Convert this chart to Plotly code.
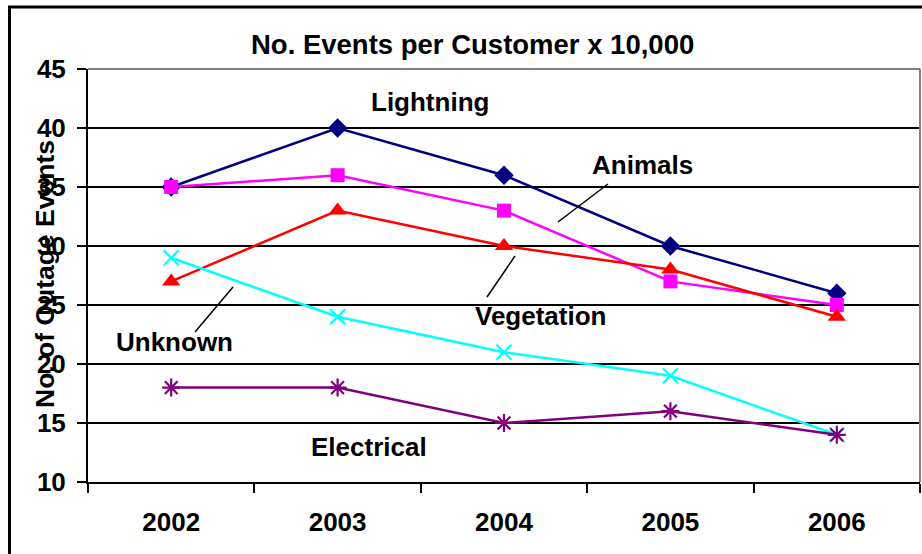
import plotly.graph_objects as go

# Outage events per 10,000 customers, by cause and year
years = ["2002", "2003", "2004", "2005", "2006"]
lightning = [35, 40, 36, 30, 26]
animals = [35, 36, 33, 27, 25]
vegetation = [27, 33, 30, 28, 24]
unknown = [29, 24, 21, 19, 14]
electrical = [18, 18, 15, 16, 14]

y_ticks = [10, 15, 20, 25, 30, 35, 40, 45]

W, H = 922, 554
L, R, T, B = 88, 920, 69, 482  # plot area in pixels


def px(x):
    return (x - L) / (R - L)


def py(y):
    return (B - y) / (B - T)


FONT = "Liberation Sans, Arial, sans-serif"

series = [
    ("Lightning", lightning, "#000080", dict(symbol="diamond", size=15, color="#000080")),
    ("Animals", animals, "#FF00FF", dict(symbol="square", size=14, color="#FF00FF")),
    ("Vegetation", vegetation, "#FF0000", dict(symbol="triangle-up", size=16, color="#FF0000")),
    ("Unknown", unknown, "#00FFFF", dict(symbol="x-thin", size=15, line=dict(color="#00FFFF", width=2.2))),
    ("Electrical", electrical, "#800080", dict(symbol="asterisk", size=15, line=dict(color="#800080", width=2.2))),
]

fig = go.Figure()
for name, vals, color, marker in series:
    fig.add_trace(go.Scatter(
        x=years, y=vals, name=name, mode="lines+markers",
        line=dict(color=color, width=2.5), marker=marker,
        cliponaxis=False,
    ))

fig.update_layout(
    width=W, height=H, autosize=False,
    margin=dict(l=L, r=W - R, t=T, b=H - B, pad=0),
    paper_bgcolor="white", plot_bgcolor="white",
    showlegend=False,
    font=dict(family=FONT, color="black"),
)

fig.update_xaxes(
    type="category", categoryorder="array", categoryarray=years,
    range=[-0.5, 4.5], tickson="boundaries",
    showgrid=False, zeroline=False,
    showline=True, linecolor="black", linewidth=2,
    ticks="outside", ticklen=9, tickwidth=2, tickcolor="black",
    tickfont=dict(family=FONT, size=26, color="black", weight="bold"),
    ticklabelstandoff=16,
)
fig.update_yaxes(
    range=[10, 45], tickvals=y_ticks, ticktext=[str(v) for v in y_ticks],
    showgrid=True, gridcolor="black", gridwidth=2, zeroline=False,
    showline=True, linecolor="black", linewidth=2,
    ticks="outside", ticklen=9, tickwidth=2, tickcolor="black",
    tickfont=dict(family=FONT, size=26, color="black", weight="bold"),
    ticklabelstandoff=6,
)

shapes = [
    # outer chart frame
    dict(type="rect", xref="paper", yref="paper",
         x0=px(9.5), x1=px(935), y0=py(565), y1=py(7),
         line=dict(color="black", width=3), layer="above"),
    # grey plot-area border, top and right
    dict(type="line", xref="paper", yref="paper",
         x0=0, x1=1, y0=1, y1=1, line=dict(color="#808080", width=2), layer="above"),
    dict(type="line", xref="paper", yref="paper",
         x0=1, x1=1, y0=0, y1=1, line=dict(color="#808080", width=2), layer="above"),
]

# leader lines from labels to their series
leaders = [((608, 184), (558, 222)),
           ((515, 256), (487, 297)),
           ((233, 287), (195, 332))]
for (x0, y0), (x1, y1) in leaders:
    shapes.append(dict(type="line", xref="paper", yref="paper",
                       x0=px(x0), y0=py(y0), x1=px(x1), y1=py(y1),
                       line=dict(color="black", width=1.5), layer="above"))
fig.update_layout(shapes=shapes)

bold = dict(family=FONT, size=26, color="black", weight="bold")
notes = [
    ("No. Events per Customer x 10,000", 472, 44, 27.5, 0),
    ("Lightning", 430, 102, 26, 0),
    ("Animals", 642, 165, 26, 0),
    ("Vegetation", 540, 316, 26, 0),
    ("Unknown", 174, 342, 26, 0),
    ("Electrical", 369, 447, 26, 0),
    ("No. of Outage Events", 45, 274, 26.5, -90),
]
for text, x, y, size, ang in notes:
    fig.add_annotation(
        text=text, xref="paper", yref="paper", x=px(x), y=py(y),
        xanchor="center", yanchor="middle", showarrow=False,
        textangle=ang, font=dict(bold, size=size),
    )

fig.write_html("out.html")
